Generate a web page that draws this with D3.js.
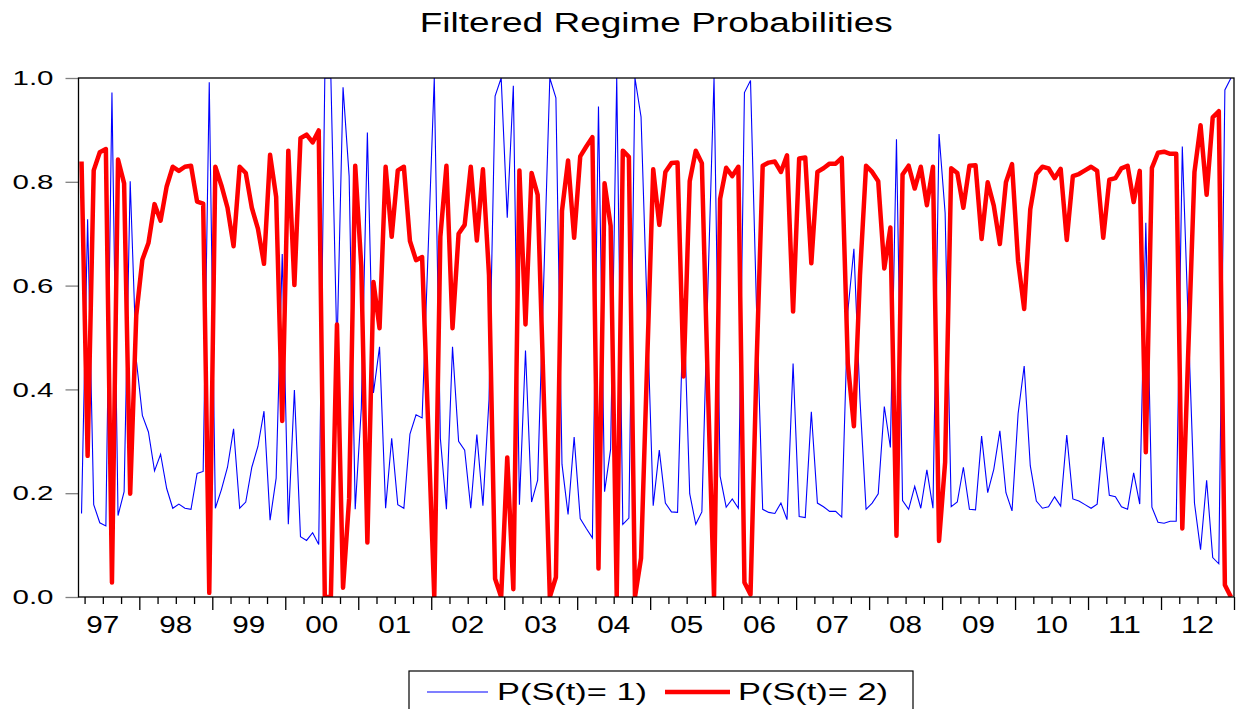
<!DOCTYPE html>
<html>
<head>
<meta charset="utf-8">
<script src="https://cdn.jsdelivr.net/npm/d3@7"></script>
<style>
body { margin: 0; background: #fff; }
text { font-family: Arial, "Liberation Sans", sans-serif; fill: #000; }
</style>
</head>
<body>
<svg width="1236" height="709"></svg>
<script>
// Filtered probabilities, monthly 1997M03 - 2012M12 (190 obs)
var p2 = [0.839,0.272,0.822,0.857,0.863,0.028,0.843,0.797,0.199,0.543,
  0.650,0.682,0.757,0.725,0.791,0.829,0.821,0.829,0.831,0.762,
  0.758,0.008,0.829,0.793,0.750,0.676,0.829,0.817,0.750,0.710,
  0.642,0.852,0.771,0.339,0.860,0.601,0.884,0.891,0.876,0.899,
  0.000,0.000,0.525,0.018,0.189,0.831,0.637,0.105,0.607,0.518,
  0.829,0.694,0.822,0.829,0.686,0.649,0.655,0.330,0.000,0.694,
  0.831,0.518,0.700,0.717,0.829,0.687,0.824,0.620,0.035,0.000,
  0.269,0.015,0.822,0.525,0.817,0.775,0.390,0.000,0.038,0.744,
  0.841,0.692,0.849,0.868,0.886,0.055,0.797,0.715,0.000,0.860,
  0.848,0.000,0.075,0.450,0.824,0.717,0.819,0.836,0.837,0.425,
  0.801,0.860,0.836,0.400,0.000,0.767,0.827,0.811,0.829,0.028,
  0.005,0.450,0.831,0.837,0.839,0.819,0.851,0.550,0.845,0.847,
  0.643,0.819,0.826,0.835,0.835,0.846,0.450,0.329,0.620,0.831,
  0.819,0.801,0.633,0.712,0.118,0.814,0.831,0.787,0.829,0.755,
  0.829,0.108,0.260,0.826,0.817,0.750,0.831,0.832,0.690,0.799,
  0.754,0.680,0.799,0.834,0.647,0.555,0.747,0.815,0.829,0.826,
  0.807,0.825,0.688,0.811,0.815,0.822,0.829,0.821,0.692,0.804,
  0.807,0.826,0.831,0.761,0.821,0.279,0.827,0.856,0.858,0.854,
  0.854,0.132,0.480,0.819,0.909,0.775,0.924,0.936,0.023,0.000];

var p1 = [0.161,0.728,0.178,0.143,0.137,0.972,0.157,0.203,0.801,0.457,
  0.350,0.318,0.243,0.275,0.209,0.171,0.179,0.171,0.169,0.238,
  0.242,0.992,0.171,0.207,0.250,0.324,0.171,0.183,0.250,0.290,
  0.358,0.148,0.229,0.661,0.140,0.399,0.116,0.109,0.124,0.101,
  1.000,1.000,0.475,0.982,0.811,0.169,0.363,0.895,0.393,0.482,
  0.171,0.306,0.178,0.171,0.314,0.351,0.345,0.670,1.000,0.306,
  0.169,0.482,0.300,0.283,0.171,0.313,0.176,0.380,0.965,1.000,
  0.731,0.985,0.178,0.475,0.183,0.225,0.610,1.000,0.962,0.256,
  0.159,0.308,0.151,0.132,0.114,0.945,0.203,0.285,1.000,0.140,
  0.152,1.000,0.925,0.550,0.176,0.283,0.181,0.164,0.163,0.575,
  0.199,0.140,0.164,0.600,1.000,0.233,0.173,0.189,0.171,0.972,
  0.995,0.550,0.169,0.163,0.161,0.181,0.149,0.450,0.155,0.153,
  0.357,0.181,0.174,0.165,0.165,0.154,0.550,0.671,0.380,0.169,
  0.181,0.199,0.367,0.288,0.882,0.186,0.169,0.213,0.171,0.245,
  0.171,0.892,0.740,0.174,0.183,0.250,0.169,0.168,0.310,0.201,
  0.246,0.320,0.201,0.166,0.353,0.445,0.253,0.185,0.171,0.174,
  0.193,0.175,0.312,0.189,0.185,0.178,0.171,0.179,0.308,0.196,
  0.193,0.174,0.169,0.239,0.179,0.721,0.173,0.144,0.142,0.146,
  0.146,0.868,0.520,0.181,0.091,0.225,0.076,0.064,0.977,1.000];

var yearLabels = ["97","98","99","00","01","02","03","04","05","06","07","08","09","10","11","12"];
var yTicks = [0, 0.2, 0.4, 0.6, 0.8, 1.0];
var seriesNames = ["P(S(t)= 1)", "P(S(t)= 2)"];
var seriesColors = ["#0000ff", "#ff0000"];

var svg = d3.select("svg");

// x is months since 1997M03, each obs drawn at the middle of its month
var nMonths = p2.length;
var x = d3.scaleLinear().domain([0, nMonths]).range([78.5, 1234]);
var y = d3.scaleLinear().domain([0, 1]).range([597, 78]);

svg.append("clipPath").attr("id", "plot")
  .append("rect")
    .attr("x", x(0)).attr("y", y(1))
    .attr("width", x(nMonths) - x(0)).attr("height", y(0) - y(1));

// title
svg.append("text")
  .attr("x", (x(0) + x(nMonths)) / 2)
  .attr("y", 32)
  .attr("text-anchor", "middle")
  .attr("font-size", 27)
  .attr("textLength", 473)
  .attr("lengthAdjust", "spacingAndGlyphs")
  .text("Filtered Regime Probabilities");

// y axis
var yAxis = svg.append("g")
  .attr("transform", "translate(" + x(0) + ",0)")
  .call(d3.axisLeft(y).tickValues(yTicks).tickSize(13).tickPadding(12)
    .tickFormat(d3.format(".1f")));
yAxis.select(".domain").remove();
yAxis.selectAll("line").attr("stroke", "#808080").attr("stroke-width", 1.3);
yAxis.selectAll("text")
  .attr("font-size", 21)
  .attr("font-family", "Arial, 'Liberation Sans', sans-serif")
  .attr("textLength", 41)
  .attr("lengthAdjust", "spacingAndGlyphs");

// x axis: quarterly minor ticks, yearly major ticks
var majorTicks = d3.range(10, nMonths + 1, 12);
var minorTicks = d3.range(1, nMonths + 1, 3).filter(function (d) { return (d - 10) % 12 !== 0; });

var xMinor = svg.append("g")
  .attr("transform", "translate(0," + y(0) + ")")
  .call(d3.axisBottom(x).tickValues(minorTicks).tickSize(7).tickFormat(""));
var xMajor = svg.append("g")
  .attr("transform", "translate(0," + y(0) + ")")
  .call(d3.axisBottom(x).tickValues(majorTicks).tickSize(13).tickFormat(""));
svg.selectAll(".domain").remove();
svg.selectAll("g line").attr("stroke-width", 1.3);
yAxis.selectAll("line").attr("stroke", "#808080");

// year labels centred in each year
svg.append("g").selectAll("text")
  .data(yearLabels)
  .enter()
  .append("text")
    .attr("x", function (d, i) { return x(4 + 12 * i); })
    .attr("y", 633)
    .attr("text-anchor", "middle")
    .attr("font-size", 23)
    .attr("textLength", 33)
    .attr("lengthAdjust", "spacingAndGlyphs")
    .text(function (d) { return d; });

// lines
var line = d3.line()
  .x(function (d, i) { return x(i + 0.5); })
  .y(function (d) { return y(d); });

var plot = svg.append("g").attr("clip-path", "url(#plot)");
plot.append("path")
  .datum(p1)
  .attr("fill", "none")
  .attr("stroke", seriesColors[0])
  .attr("stroke-width", 1.1)
  .attr("d", line);
plot.append("path")
  .datum(p2)
  .attr("fill", "none")
  .attr("stroke", seriesColors[1])
  .attr("stroke-width", 4.5)
  .attr("stroke-linejoin", "round")
  .attr("d", line);

// frame
svg.append("rect")
  .attr("x", x(0)).attr("y", y(1))
  .attr("width", x(nMonths) - x(0)).attr("height", y(0) - y(1))
  .attr("fill", "none")
  .attr("stroke", "#000")
  .attr("stroke-width", 1.3);

// legend
var legend = svg.append("g");
legend.append("rect")
  .attr("x", 409).attr("y", 671)
  .attr("width", 504).attr("height", 50)
  .attr("fill", "#fff")
  .attr("stroke", "#000")
  .attr("stroke-width", 1.2);

var legendX = [[427, 488, 497], [665, 730, 738]];
seriesNames.forEach(function (name, i) {
  legend.append("line")
    .attr("x1", legendX[i][0]).attr("x2", legendX[i][1])
    .attr("y1", 692).attr("y2", 692)
    .attr("stroke", seriesColors[i])
    .attr("stroke-width", i === 0 ? 1.1 : 4.5);
  legend.append("text")
    .attr("x", legendX[i][2])
    .attr("y", 700)
    .attr("font-size", 24)
    .attr("textLength", 150)
    .attr("lengthAdjust", "spacingAndGlyphs")
    .text(name);
});
</script>
</body>
</html>
